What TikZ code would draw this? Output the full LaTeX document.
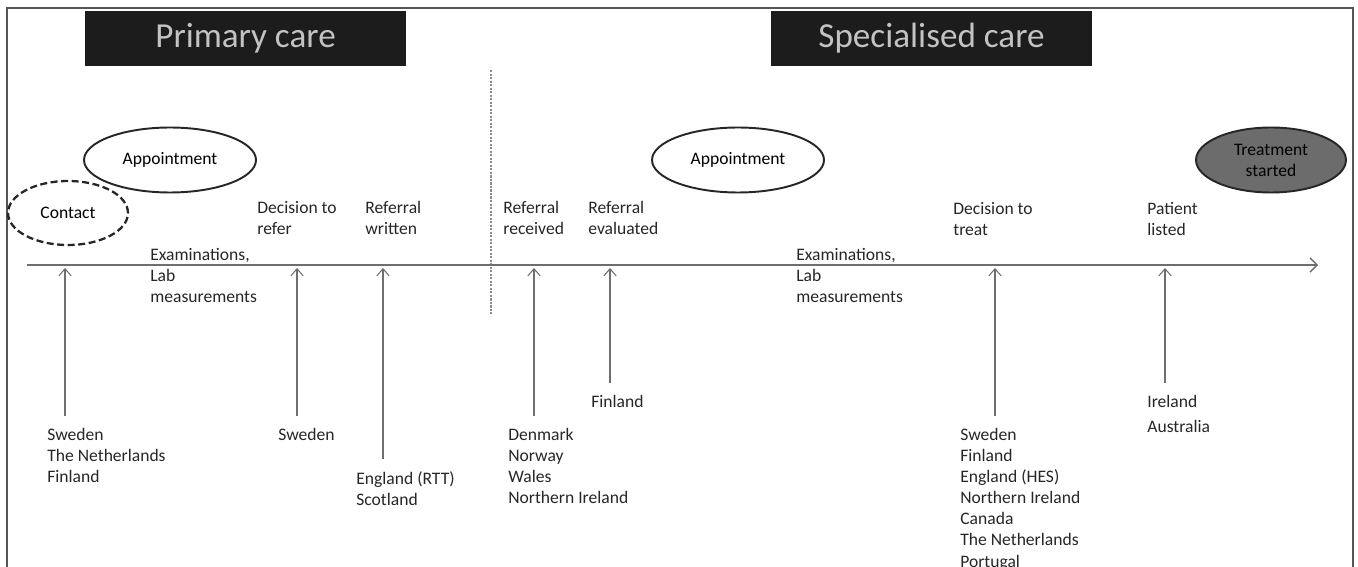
\documentclass[tikz,border=0pt]{standalone}
\usepackage{fontspec}
\setmainfont{Carlito}
\usetikzlibrary{arrows.meta}
\usetikzlibrary{shapes.geometric}
\definecolor{mgrey}{RGB}{110,110,110}
\definecolor{framegrey}{RGB}{85,85,85}
\definecolor{boxblack}{RGB}{28,28,28}
\definecolor{titlegrey}{RGB}{195,195,195}
\definecolor{treatfill}{RGB}{108,108,108}

\begin{document}
\begin{tikzpicture}[x=0.02cm, y=-0.02cm, font=\fontsize{10}{12}\selectfont,
    txt/.style={anchor=north west, inner sep=0pt, align=left, text=black!85},
    titlebox/.style={fill=boxblack, text=titlegrey, minimum width=6.42cm, minimum height=1.1cm, font=\fontsize{20}{24}\selectfont},
    oval/.style={ellipse, draw=black!85, line width=1.1pt, inner sep=0pt, minimum height=1.3cm},
    uparrow/.style={mgrey, line width=0.6pt, -{Straight Barb[length=4pt, width=7pt]}}]
    \useasboundingbox (0, 0) rectangle (1358, 567);

    % frame and headings
    \draw [framegrey, line width=0.8pt] (7, 567) -- (7, 8) -- (1353, 8) -- (1353, 567);
    \node [titlebox] (primary) at (245.5, 38.5) {Primary care};
    \node [titlebox] (special) at (931.5, 38.5) {Specialised care};
    \draw [black!45, line width=1.2pt, dash pattern=on 1.2pt off 0.8pt] (491, 70) -- (491, 314);

    % timeline
    \coordinate (tlstart) at (27, 265);
    \coordinate (tlend) at (1318, 265);
    \draw [mgrey, line width=0.8pt, -{Straight Barb[length=4pt, width=8pt]}] (tlstart) -- (tlend);

    % events
    \node [oval, line width=1.3pt, dash pattern=on 4pt off 2pt, minimum width=2.4cm, minimum height=1.28cm] (contact) at (68, 213) {Contact};
    \node [oval, minimum width=3.44cm] (appA) at (170, 160) {Appointment};
    \node [oval, minimum width=3.44cm] (appB) at (738, 160) {Appointment};
    \node [oval, minimum width=3.0cm, fill=treatfill, align=center] (treat) at (1271, 160) {\color{black}Treatment\\\color{black}started};

    \node [txt] (exA) at (150, 248) {Examinations,\\Lab\\measurements};
    \node [txt] (refer) at (257, 201) {Decision to\\refer};
    \node [txt] (written) at (365, 201) {Referral\\written};
    \node [txt] (received) at (503, 201) {Referral\\received};
    \node [txt] (evaluated) at (588, 201) {Referral\\evaluated};
    \node [txt] (exB) at (796, 248) {Examinations,\\Lab\\measurements};
    \node [txt] (decide) at (953, 202) {Decision to\\treat};
    \node [txt] (listed) at (1147, 202) {Patient\\listed};

    % countries
    \node [txt] (cContact) at (47, 428) {Sweden\\The Netherlands\\Finland};
    \node [txt] (cRefer) at (278, 428) {Sweden};
    \node [txt] (cWritten) at (356, 471) {England (RTT)\\Scotland};
    \node [txt] (cReceived) at (508, 428) {Denmark\\Norway\\Wales\\Northern Ireland};
    \node [txt] (cEvaluated) at (591, 395) {Finland};
    \node [txt] (cDecide) at (960, 428) {Sweden\\Finland\\England (HES)\\Northern Ireland\\Canada\\The Netherlands\\Portugal};
    \node [txt] (cListed) at (1147, 395) {Ireland\\[2pt]Australia};

    \coordinate (topA) at (65, 268);
    \coordinate (botA) at (65, 416);
    \coordinate (topB) at (297, 268);
    \coordinate (botB) at (297, 416);
    \coordinate (topC) at (383, 268);
    \coordinate (botC) at (383, 459);
    \coordinate (topD) at (534, 268);
    \coordinate (botD) at (534, 416);
    \coordinate (topE) at (610, 268);
    \coordinate (botE) at (610, 383);
    \coordinate (topF) at (995, 268);
    \coordinate (botF) at (995, 416);
    \coordinate (topG) at (1165, 268);
    \coordinate (botG) at (1165, 383);
    \draw [uparrow] (botA) -- (topA);
    \draw [uparrow] (botB) -- (topB);
    \draw [uparrow] (botC) -- (topC);
    \draw [uparrow] (botD) -- (topD);
    \draw [uparrow] (botE) -- (topE);
    \draw [uparrow] (botF) -- (topF);
    \draw [uparrow] (botG) -- (topG);
\end{tikzpicture}
\end{document}
